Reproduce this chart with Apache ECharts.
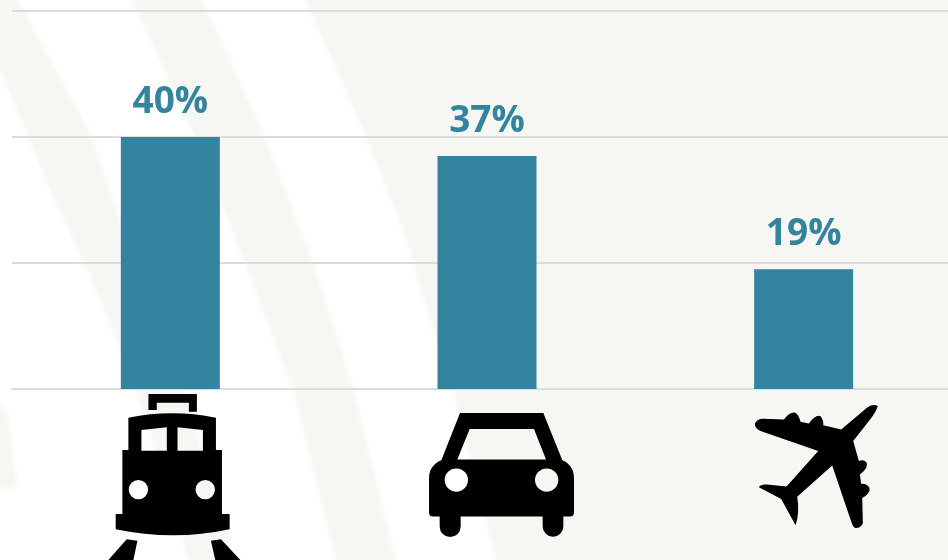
<!DOCTYPE html>
<html>
<head>
<meta charset="utf-8">
<style>
html, body { margin: 0; padding: 0; background: #ffffff; }
#chart { width: 948px; height: 560px; background-repeat: no-repeat; }
</style>
<script src="https://cdn.jsdelivr.net/npm/echarts@6/dist/echarts.min.js"></script>
</head>
<body>
<div id="chart"></div>
<script>
var categories = ['Train', 'Car', 'Plane'];
var shares = [40, 37, 19];
var tickValues = [0, 20, 40, 60];

// icons drawn on the category axis, holes run against the outline
var trainIcon = 'path://M175 42L320 42L320 95L296 95L296 68L200 68L200 90L175 90Z' +
    'M115 113Q245 87 377 113L377 210L395 210L395 402L418 402L418 448Q250 484 77 448L77 402L97 402L97 210L115 210Z' +
    'M154 150L154 212L230 212L230 142Z' +
    'M262 142L262 212L338 212L338 150Z' +
    'M116 329A29 29 0 0 0 174 329A29 29 0 0 0 116 329Z' +
    'M316 329A29 29 0 0 0 374 329A29 29 0 0 0 316 329Z' +
    'M110 478L142 482L130 540L55 540Z' +
    'M362 482L392 478L450 540L375 540Z';
var carIcon = 'path://M148 68L398 68L455 210Q490 225 490 265L490 368Q490 380 478 380L458 380L458 410A31 31 0 0 1 396 410L396 380L150 380L150 410A31 31 0 0 1 87 410L87 380L67 380Q55 380 55 368L55 265Q55 225 92 210Z' +
    'M177 116L140 208L406 208L370 116Z' +
    'M102 270A35 35 0 0 0 172 270A35 35 0 0 0 102 270Z' +
    'M373 270A35 35 0 0 0 443 270A35 35 0 0 0 373 270Z';
var planeIcon = 'path://M412 48Q408 62 395 80L338 152L355 212Q368 205 378 216Q385 232 358 252L362 280Q378 278 387 292Q390 308 365 322L367 398Q358 414 342 411Q335 405 332 392L275 225L170 318Q178 365 165 403L122 325L55 290Q60 280 80 282L138 288L233 182L60 122Q42 115 43 100Q50 85 70 86L130 88Q148 64 165 68Q175 75 180 95L205 100Q225 72 240 78Q250 90 248 105L302 118L380 52Q398 40 412 48Z';

var iconPaths = [trainIcon, carIcon, planeIcon];
var iconSizes = [[132, 166], [145, 124], [123, 123]];
var iconOffsets = [[4, 171], [14.5, 148], [12.7, 139]];

// pale brush strokes behind the chart
var paleBands = [
    'M-5 -5L15 -5L90 133L113 200L150 300L185 389L210 480L235 565L190 565L165 480L135 389L120 347L85 265L50 190L0 70L-5 70Z',
    'M130 -5L200 -5L262 130L313 263L353 387L397 565L337 565L293 390L245 263L195 137Z',
    'M303 -5L953 -5L953 565L497 565L453 390L433 330L403 230L363 130Z',
    'M-5 398L8 415L17 487L-5 490Z'
];

var bandSvg = '<svg xmlns="http://www.w3.org/2000/svg" width="948" height="560">' +
    '<filter id="soft"><feGaussianBlur stdDeviation="2"/></filter>' +
    '<g filter="url(#soft)">' +
    paleBands.map(function (d) {
        return '<path fill="#f6f6f2" d="' + d + '"/>';
    }).join('') + '</g></svg>';
var chartDom = document.getElementById('chart');
chartDom.style.backgroundImage = 'url("data:image/svg+xml,' + encodeURIComponent(bandSvg) + '")';

var chart = echarts.init(chartDom);
chart.setOption({
    animation: false,
    grid: { left: 12, width: 950, top: 11, height: 378, outerBoundsMode: 'none' },
    xAxis: {
        type: 'category',
        data: categories,
        axisTick: { show: false },
        axisLabel: { show: false },
        axisLine: { lineStyle: { color: '#dcdcdc', width: 2 } }
    },
    yAxis: {
        type: 'value',
        min: tickValues[0],
        max: tickValues[tickValues.length - 1],
        interval: 20,
        axisLabel: { show: false },
        axisLine: { show: false },
        axisTick: { show: false },
        splitLine: { lineStyle: { color: '#dcdcdc', width: 2 } }
    },
    series: [
        {
            type: 'bar',
            data: shares,
            barWidth: 99,
            itemStyle: { color: '#33849f' },
            label: {
                show: true,
                position: 'top',
                distance: 16,
                formatter: '{c}%',
                color: '#33849f',
                fontFamily: 'Open Sans',
                fontWeight: 700,
                fontSize: 37
            }
        },
        {
            type: 'pictorialBar',
            symbolPosition: 'start',
            silent: true,
            z: 3,
            itemStyle: { color: '#000000' },
            data: categories.map(function (name, i) {
                return {
                    value: 0,
                    symbol: iconPaths[i],
                    symbolSize: iconSizes[i],
                    symbolOffset: iconOffsets[i]
                };
            })
        }
    ]
});
</script>
</body>
</html>
